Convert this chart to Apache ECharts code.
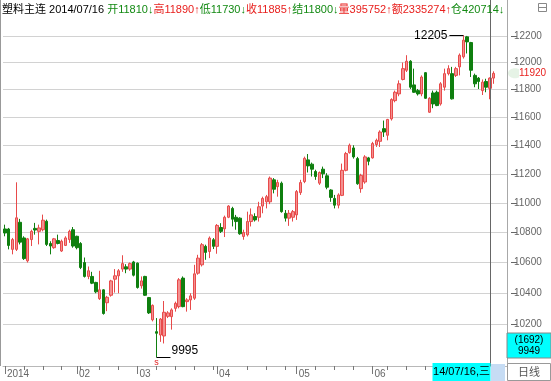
<!DOCTYPE html>
<html><head><meta charset="utf-8">
<script src="https://cdn.jsdelivr.net/npm/echarts@6/dist/echarts.min.js"></script>
<style>html,body{margin:0;padding:0;background:#fff}#c{width:551px;height:381px}</style>
</head><body><div id="c"></div>
<script>
// trading days shown (2014)
const monthDays = [
  ['01',[6,7,8,9,10,13,14,15,16,17,20,21,22,23,24,27,28,29,30]],
  ['02',[7,10,11,12,13,14,17,18,19,20,21,24,25,26,27,28]],
  ['03',[3,4,5,6,7,10,11,12,13,14,17,18,19,20,21,24,25,26,27,28,31]],
  ['04',[1,2,3,4,8,9,10,11,14,15,16,17,18,21,22,23,24,25,28,29,30]],
  ['05',[5,6,7,8,9,12,13,14,15,16,19,20,21,22,23,26,27,28,29,30]],
  ['06',[3,4,5,6,9,10,11,12,13,16,17,18,19,20,23,24,25,26,27,30]],
  ['07',[1,2,3,4,7,8,9,10,11,14,15,16,17]]
];
const monthLabels = {'01':'2014','02':'02','03':'03','04':'04','05':'05','06':'06'};
// [open, close, low, high]
const ohlc = [
[10823,10796,10774,10852],[10823,10713,10687,10830],[10687,10752,10654,10763],[10687,10898,10676,11141],
[10868,10735,10720,10891],[10763,10626,10617,10774],[10611,10757,10600,10763],[10752,10807,10709,10818],
[10827,10816,10785,10864],[10807,10830,10720,10852],[10818,10882,10807,10920],[10875,10720,10709,10886],
[10726,10709,10654,10741],[10698,10757,10691,10763],[10746,10726,10720,10785],[10676,10741,10670,10752],
[10713,10763,10709,10774],[10752,10807,10730,10818],[10818,10709,10698,10836],[10774,10698,10687,10778],
[10726,10567,10557,10735],[10600,10509,10502,10633],[10509,10546,10491,10574],[10509,10465,10459,10539],
[10470,10409,10400,10474],[10365,10422,10357,10546],[10422,10270,10263,10426],[10339,10374,10285,10383],
[10387,10480,10378,10487],[10491,10513,10404,10557],[10513,10546,10400,10557],[10557,10593,10539,10648],
[10572,10557,10530,10589],[10557,10593,10546,10600],[10604,10517,10509,10611],[10596,10437,10430,10600],
[10448,10480,10430,10509],[10509,10387,10383,10513],[10372,10274,10267,10376],[10230,10322,10220,10328],
[10155,10145,9995,10241],[10134,10235,10091,10241],[10128,10278,10081,10350],[10252,10274,10241,10285],
[10250,10293,10168,10303],[10303,10335,10282,10346],[10314,10487,10303,10498],[10498,10314,10310,10509],
[10346,10357,10282,10368],[10357,10383,10293,10400],[10368,10526,10357,10585],[10530,10629,10520,10651],
[10585,10718,10574,10729],[10707,10667,10618,10718],[10673,10762,10629,10773],[10751,10707,10689,10762],
[10707,10847,10658,10856],[10833,10807,10796,10862],[10824,10902,10769,10913],[10902,10978,10896,10984],
[10962,10889,10840,10973],[10902,10873,10818,10918],[10896,10791,10784,10902],[10773,10800,10751,10818],
[10784,10873,10773,10940],[10873,10918,10840,10962],[10907,10884,10873,10929],[10902,10973,10873,11007],
[10978,11030,10929,11042],[11007,11042,10962,11054],[11007,11170,10991,11181],[11158,11093,11065,11170],
[11111,11139,11042,11158],[11135,10940,10933,11146],[10929,10896,10873,10951],[10896,10929,10844,10951],
[10902,10940,10873,10951],[10918,11077,10884,11088],[11070,11139,11054,11158],[11146,11308,11135,11320],
[11297,11255,11209,11338],[11267,11232,11181,11278],[11216,11181,11158,11228],[11135,11209,11123,11216],
[11232,11200,11170,11250],[11186,11107,11093,11204],[11088,11037,11007,11093],[11030,10984,10962,11054],
[10984,11054,10962,11065],[11051,11224,11046,11271],[11224,11341,11217,11353],[11348,11400,11341,11412],
[11381,11318,11306,11400],[11306,11131,11124,11318],[11097,11189,11069,11200],[11143,11318,11131,11330],
[11311,11287,11259,11318],[11311,11412,11306,11424],[11405,11435,11388,11447],[11428,11494,11388,11506],
[11518,11494,11459,11576],[11471,11584,11435,11588],[11588,11728,11576,11737],[11720,11781,11708,11793],
[11769,11843,11752,11868],[11875,11955,11868,12000],[11943,12010,11930,12055],[12010,11818,11805,12018],
[11835,11781,11776,11955],[11793,11769,11757,11805],[11769,11893,11752,11905],[11925,11737,11733,11930],
[11636,11737,11631,11745],[11776,11696,11665,11793],[11781,11684,11680,11793],[11696,11843,11684,11855],
[11818,11918,11793,11955],[11918,11955,11905,11980],[11918,11733,11728,11968],[11905,11955,11893,11968],
[11968,12055,11905,12068],[12043,12168,12030,12205],[12193,12155,12068,12200],[12150,11943,11893,12155],
[11905,11843,11818,11918],[11885,11860,11805,11893],[11793,11855,11761,11875],[11860,11818,11781,11880],
[11810,11885,11730,11890],[11885,11920,11843,11935]
];
const yTicks = [10200,10400,10600,10800,11000,11200,11400,11600,11800,12000,12200];
const headerParts = [
  ['塑料主连 ','#000'],['2014/07/16 ','#000'],['开11810↓','#138a13'],['高11890↑','#e8201e'],
  ['低11730↓','#138a13'],['收11885↑','#e8201e'],['结11800↓','#138a13'],['量395752↑','#e8201e'],
  ['额2335274↑','#e8201e'],['仓420714↓','#138a13']
];
const highMark = {index:121, value:12205, text:'12205'};
const lowMark = {index:40, value:9995, text:'9995'};
const cursorIndex = 128, cursorLabel = '14/07/16,三';
const lastPrice = 11920;
const boxTexts = ['(1692)','9949'];
const emptySlots = 3;
const Y_MIN = 9941, Y_MAX = 12475;

const cats = [], majorIdx = {}, minorIdx = {};
monthDays.forEach(([m, days]) => {
  days.forEach((d, k) => {
    const idx = cats.length;
    if (k === 0 && monthLabels[m]) majorIdx[idx] = monthLabels[m];
    else if (new Date(2014, +m - 1, d).getDay() === 1) minorIdx[idx] = true;
    cats.push('2014-' + m + '-' + String(d).padStart(2, '0'));
  });
});
for (let i = 0; i < emptySlots; i++) cats.push('');

const chart = echarts.init(document.getElementById('c'));
const FONT = '"Liberation Sans", "Noto Sans CJK SC", sans-serif';
chart.setOption({
  animation: false,
  backgroundColor: '#fff',
  grid: {left: 3, right: 44, top: 0, bottom: 15},
  xAxis: [{
    type: 'category', data: cats, boundaryGap: true,
    axisLine: {show: true, lineStyle: {color: '#b8b8b8'}},
    axisTick: {show: true, alignWithLabel: true, length: 8, lineStyle: {color: '#777'},
      interval: (i) => majorIdx[i] !== undefined},
    axisLabel: {show: true, interval: (i) => majorIdx[i] !== undefined,
      formatter: (v, i) => majorIdx[i] || '', align: 'left', margin: 3, padding: [0, 0, 0, 2],
      color: '#666', fontSize: 10, fontFamily: FONT},
    splitLine: {show: false}
  }, {
    type: 'category', data: cats, boundaryGap: true, position: 'bottom',
    axisLine: {show: false},
    axisTick: {show: true, alignWithLabel: true, length: 4, lineStyle: {color: '#777'},
      interval: (i) => minorIdx[i] === true},
    axisLabel: {show: false}, splitLine: {show: false}
  }],
  yAxis: [{
    type: 'log', logBase: 10, min: Y_MIN, max: Y_MAX, position: 'right',
    axisLine: {show: true, lineStyle: {color: '#a8a8a8'}},
    axisTick: {show: false}, axisLabel: {show: false}, splitLine: {show: false}
  }, {
    type: 'log', logBase: 10, min: Y_MIN, max: Y_MAX, position: 'right', offset: 4,
    axisLine: {show: false},
    axisTick: {show: true, length: 6, customValues: yTicks, lineStyle: {color: '#666'}},
    axisLabel: {show: true, customValues: yTicks, margin: 3, color: '#666', fontSize: 10, fontFamily: FONT,
      formatter: (v) => String(Math.round(v))},
    splitLine: {show: true, lineStyle: {color: '#d2d2d2', width: 1}}
  }],
  series: [{
    type: 'candlestick', data: ohlc, xAxisIndex: 0, yAxisIndex: 0,
    barWidth: 3,
    itemStyle: {color: '#f39090', borderColor: '#e84a4a', color0: '#0f7f0f', borderColor0: '#0f7f0f', borderWidth: 1},
    emphasis: {disabled: true}
  }]
});

function px(i, v) { return chart.convertToPixel({xAxisIndex: 0, yAxisIndex: 0}, [i, v]); }
const g = [];
const plotBottom = px(0, Y_MIN)[1];
// left border
g.push({type: 'line', shape: {x1: 0.5, y1: 0, x2: 0.5, y2: plotBottom}, style: {stroke: '#999', lineWidth: 1}});
// header (one rich text so parts sit side by side)
const rich = {};
headerParts.forEach(([t, c], k) => { rich['p' + k] = {fill: c, fontSize: 11, fontFamily: FONT}; });
g.push({type: 'text', x: 2, y: 10, z: 70, style: {
  text: headerParts.map(([t], k) => '{p' + k + '|' + t + '}').join(''),
  rich: rich, font: '11px ' + FONT, textVerticalAlign: 'middle'}});
// top-right icon
g.push({type: 'rect', shape: {x: 538.5, y: 3.5, width: 8, height: 8}, style: {fill: 'none', stroke: '#888', lineWidth: 1}});
g.push({type: 'line', shape: {x1: 538.5, y1: 7.5, x2: 546.5, y2: 7.5}, style: {stroke: '#888', lineWidth: 1}});
// cursor line
const cx = Math.round(px(cursorIndex, lastPrice)[0]) + 0.5;
g.push({type: 'line', shape: {x1: cx, y1: 0, x2: cx, y2: plotBottom}, style: {stroke: '#666', lineWidth: 1}, z: 50});
// high annotation
const hp = px(highMark.index, highMark.value);
g.push({type: 'line', shape: {x1: hp[0] - 14, y1: Math.round(hp[1]) + 0.5, x2: hp[0], y2: Math.round(hp[1]) + 0.5}, style: {stroke: '#000', lineWidth: 1}, z: 60});
g.push({type: 'text', x: hp[0] - 16, y: hp[1], style: {text: highMark.text, fill: '#000', font: '12px ' + FONT, textAlign: 'right', textVerticalAlign: 'middle'}, z: 60});
// low annotation
const lp = px(lowMark.index, lowMark.value);
g.push({type: 'line', shape: {x1: lp[0], y1: Math.round(lp[1]) + 0.5, x2: lp[0] + 14, y2: Math.round(lp[1]) + 0.5}, style: {stroke: '#000', lineWidth: 1}, z: 60});
g.push({type: 'text', x: lp[0] + 15, y: lp[1] - 1, style: {text: lowMark.text, fill: '#000', font: '12px ' + FONT, textAlign: 'left', textVerticalAlign: 'bottom'}, z: 60});
g.push({type: 'text', x: lp[0], y: lp[1] + 1, style: {text: 's', fill: '#e02020', font: '9px ' + FONT, textAlign: 'center', textVerticalAlign: 'top'}, z: 60});
// last price label
const yp = px(0, lastPrice)[1];
g.push({type: 'ellipse', shape: {cx: 515, cy: yp, rx: 7, ry: 5}, style: {fill: '#e6f3e6'}, z: 40});
g.push({type: 'text', x: 519, y: yp, style: {text: String(lastPrice), fill: '#e8201e', font: '10px ' + FONT, textVerticalAlign: 'middle', backgroundColor: '#fff'}, z: 61});
// cursor y box
g.push({type: 'rect', shape: {x: 507, y: 333, width: 44, height: 25}, style: {fill: '#00ffff', stroke: '#888', lineWidth: 1}, z: 62});
g.push({type: 'text', x: 529, y: 340, style: {text: boxTexts[0], fill: '#000', font: '10px ' + FONT, textAlign: 'center', textVerticalAlign: 'middle'}, z: 63});
g.push({type: 'text', x: 529, y: 351, style: {text: boxTexts[1], fill: '#000', font: '10px ' + FONT, textAlign: 'center', textVerticalAlign: 'middle'}, z: 63});
// cursor date box
g.push({type: 'rect', shape: {x: cx - 58, y: 363, width: 58, height: 18}, style: {fill: '#00ffff'}, z: 62});
g.push({type: 'text', x: cx - 29, y: 372, style: {text: cursorLabel, fill: '#000', font: '11px ' + FONT, textAlign: 'center', textVerticalAlign: 'middle'}, z: 63});
// bottom right boxes
g.push({type: 'rect', shape: {x: 491, y: 364, width: 14, height: 17}, style: {fill: '#c6dcf4'}, z: 62});
g.push({type: 'rect', shape: {x: 507.5, y: 363.5, width: 43, height: 17}, style: {fill: '#fff', stroke: '#999', lineWidth: 1}, z: 62});
g.push({type: 'text', x: 529, y: 372.5, style: {text: '日线', fill: '#555', font: '11px ' + FONT, textAlign: 'center', textVerticalAlign: 'middle'}, z: 63});
chart.setOption({graphic: {elements: g}});
</script>
</body></html>
